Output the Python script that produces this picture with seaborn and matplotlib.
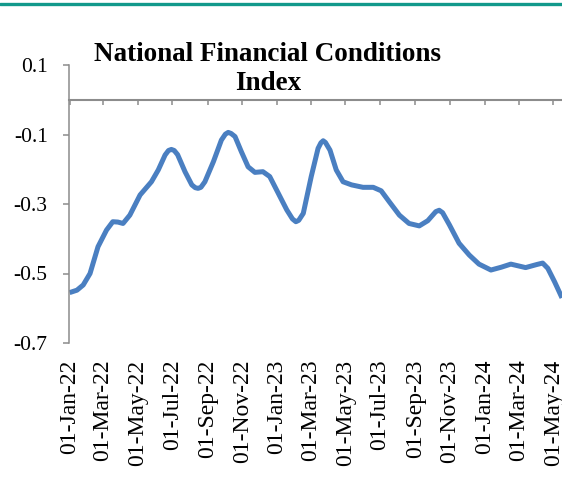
import pandas as pd
import seaborn as sns
import matplotlib.pyplot as plt
import matplotlib.dates as mdates

# -------------------------------
# Data
# -------------------------------
obs_dates = [
    "2022-01-01", "2022-01-14", "2022-01-25", "2022-02-06", "2022-02-20",
    "2022-03-07", "2022-03-18", "2022-03-27", "2022-04-05", "2022-04-17",
    "2022-05-05", "2022-05-25", "2022-06-06", "2022-06-18", "2022-06-24",
    "2022-06-29", "2022-07-04", "2022-07-10", "2022-07-23", "2022-08-04",
    "2022-08-10", "2022-08-15", "2022-08-20", "2022-08-27", "2022-09-11",
    "2022-09-25", "2022-10-02", "2022-10-07", "2022-10-12", "2022-10-19",
    "2022-10-30", "2022-11-11", "2022-11-23", "2022-12-07", "2022-12-19",
    "2023-01-03", "2023-01-18", "2023-01-28", "2023-02-03", "2023-02-08",
    "2023-02-16", "2023-03-02", "2023-03-14", "2023-03-19", "2023-03-23",
    "2023-03-27", "2023-04-04", "2023-04-15", "2023-04-27", "2023-05-12",
    "2023-06-01", "2023-06-19", "2023-07-03", "2023-07-17", "2023-08-04",
    "2023-08-21", "2023-09-08", "2023-09-23", "2023-10-07", "2023-10-13",
    "2023-10-19", "2023-10-31", "2023-11-17", "2023-12-05", "2023-12-22",
    "2024-01-12", "2024-01-30", "2024-02-16", "2024-03-13", "2024-04-02",
    "2024-04-12", "2024-04-21", "2024-05-03", "2024-05-16",
]
nfci = [
    -0.555, -0.548, -0.533, -0.500, -0.423,
    -0.375, -0.351, -0.352, -0.356, -0.332,
    -0.274, -0.236, -0.202, -0.159, -0.146,
    -0.143, -0.146, -0.158, -0.207, -0.245,
    -0.253, -0.255, -0.252, -0.236, -0.178,
    -0.116, -0.099, -0.094, -0.097, -0.106,
    -0.149, -0.193, -0.209, -0.207, -0.221,
    -0.269, -0.317, -0.343, -0.351, -0.347,
    -0.327, -0.221, -0.140, -0.124, -0.118,
    -0.123, -0.145, -0.202, -0.236, -0.245,
    -0.252, -0.252, -0.262, -0.293, -0.332,
    -0.356, -0.363, -0.348, -0.322, -0.318,
    -0.325, -0.360, -0.413, -0.447, -0.473,
    -0.490, -0.482, -0.473, -0.483, -0.474,
    -0.470, -0.485, -0.524, -0.570,
]
y_ticks = [-0.7, -0.5, -0.3, -0.1, 0.1]
y_tick_labels = ["-0.7", "-0.5", "-0.3", "-0.1", "0.1"]
x_tick_dates = pd.date_range("2022-01-01", "2024-05-01", freq="2MS")
title = "National Financial Conditions\nIndex"

df = pd.DataFrame({"date": pd.to_datetime(obs_dates), "nfci": nfci})

# -------------------------------
# Style
# -------------------------------
sns.set_style("white")
plt.rcParams["font.family"] = ["Liberation Serif", "DejaVu Serif"]
plt.rcParams["text.color"] = "black"
grey = "#8c8c8c"

fig = plt.figure(figsize=(5.62, 4.79), dpi=100)
ax = fig.add_axes([69 / 562, 1 - 343 / 479, (562 - 69) / 562, (343 - 65) / 479])

sns.lineplot(data=df, x="date", y="nfci", ax=ax, color="#4a7fc1",
             linewidth=3.6, solid_capstyle="butt", solid_joinstyle="round")

ax.set_xlim(pd.Timestamp("2021-12-31"), pd.Timestamp("2024-05-16"))
ax.set_ylim(-0.7, 0.1)
ax.set_xlabel("")
ax.set_ylabel("")

# y axis
ax.set_yticks(y_ticks)
ax.set_yticklabels(y_tick_labels)
ax.tick_params(axis="y", direction="out", length=4.3, width=1.1, color=grey,
               pad=11, labelsize=15.5, labelcolor="black", left=True)

# x labels at the bottom, no tick marks there
ax.set_xticks(x_tick_dates)
ax.xaxis.set_major_formatter(mdates.DateFormatter("%d-%b-%y"))
ax.tick_params(axis="x", length=0, pad=12, labelsize=17, labelrotation=90,
               labelcolor="black")

for side in ["top", "right", "bottom"]:
    ax.spines[side].set_visible(False)
ax.spines["left"].set_color(grey)
ax.spines["left"].set_linewidth(1.1)

# horizontal axis line at zero with its tick marks
zero_frac = (0 - (-0.7)) / (0.1 - (-0.7))
sec = ax.secondary_xaxis(zero_frac)
sec.set_xticks(mdates.date2num(x_tick_dates))
sec.tick_params(axis="x", direction="in", length=3.6, width=1.1, color=grey,
                labeltop=False, labelbottom=False)
for sp in sec.spines.values():
    sp.set_color(grey)
    sp.set_linewidth(1.5)

# title and top rule
fig.text(268 / 562, 1 - 42 / 479, title, ha="center", va="top",
         fontsize=19.5, fontweight="bold", linespacing=1.22, color="black")
fig.add_artist(plt.Line2D([0, 1], [1 - 3.5 / 479] * 2, transform=fig.transFigure,
                          color="#12998b", linewidth=2.4))

fig.savefig("out.png", dpi=100)
